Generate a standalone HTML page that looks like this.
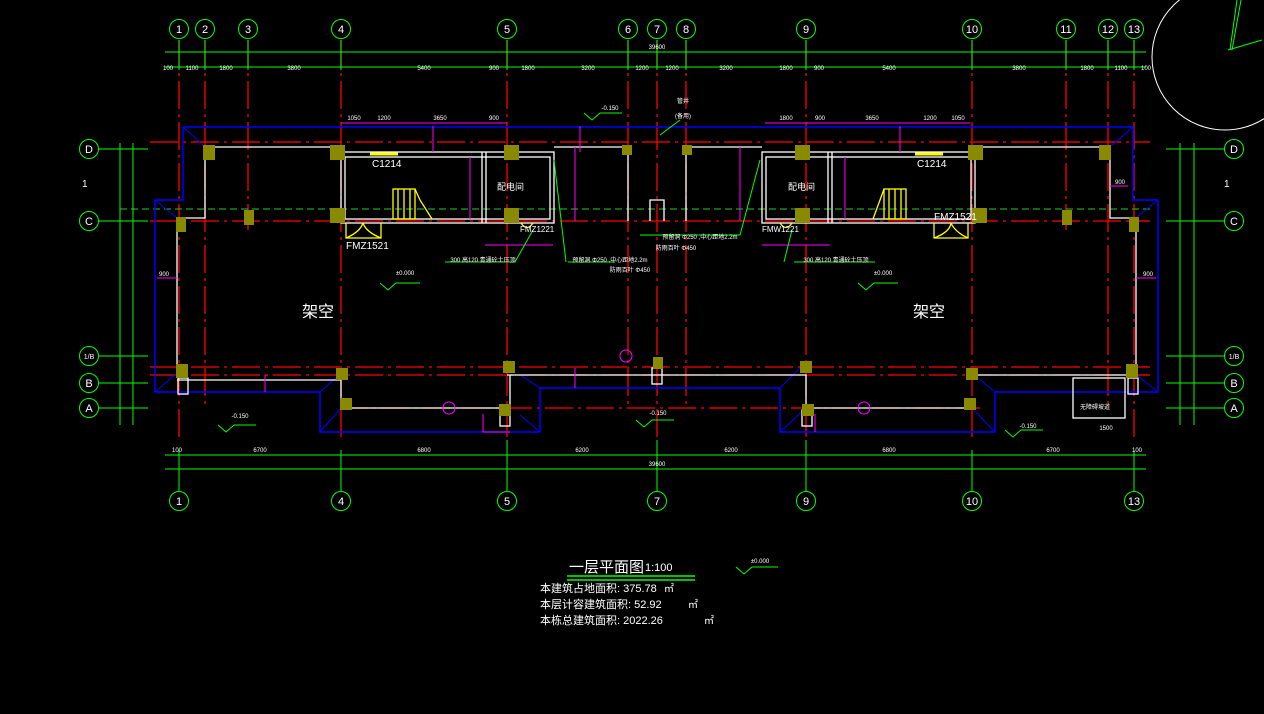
<!DOCTYPE html>
<html><head><meta charset="utf-8"><style>
html,body{margin:0;padding:0;background:#000;}
svg{display:block}
text{font-family:"Liberation Sans","Noto Sans CJK SC",sans-serif;}
</style></head><body>
<svg width="1264" height="714" viewBox="0 0 1264 714" xmlns="http://www.w3.org/2000/svg">
<rect width="1264" height="714" fill="#000"/>
<g stroke="#f00" stroke-width="1.3" stroke-dasharray="28,5,3,5" fill="none">
<line x1="179" y1="40" x2="179" y2="440"/><line x1="205" y1="40" x2="205" y2="405"/>
<line x1="248" y1="40" x2="248" y2="230"/><line x1="341" y1="40" x2="341" y2="440"/>
<line x1="507" y1="40" x2="507" y2="440"/><line x1="628" y1="40" x2="628" y2="405"/>
<line x1="657" y1="40" x2="657" y2="440"/><line x1="686" y1="40" x2="686" y2="405"/>
<line x1="806" y1="40" x2="806" y2="440"/><line x1="972" y1="40" x2="972" y2="440"/>
<line x1="1066" y1="40" x2="1066" y2="230"/><line x1="1108" y1="40" x2="1108" y2="405"/>
<line x1="1134" y1="40" x2="1134" y2="440"/>
<line x1="150" y1="142" x2="1150" y2="142"/><line x1="150" y1="221" x2="1150" y2="221"/>
<line x1="150" y1="367" x2="1150" y2="367"/><line x1="150" y1="375" x2="1150" y2="375"/>
<line x1="340" y1="408" x2="980" y2="408"/>
</g>
<line x1="120" y1="209" x2="1150" y2="209" stroke="#2c2" stroke-dasharray="7,4" stroke-width="1"/>
<polyline fill="none" stroke="#00f" stroke-width="1.5" points="183,127 1133,127 1133,200 1158,200 1158,392 995,392 995,432 780,432 780,388 540,388 540,432 320,432 320,392 155,392 155,200 183,200 183,127"/>
<g stroke="#00f" stroke-width="1"><line x1="183" y1="127" x2="205" y2="147"/><line x1="1133" y1="127" x2="1110" y2="147"/><line x1="155" y1="200" x2="177" y2="218"/><line x1="1158" y1="200" x2="1136" y2="218"/><line x1="155" y1="392" x2="177" y2="373"/><line x1="320" y1="392" x2="341" y2="373"/><line x1="320" y1="432" x2="341" y2="408"/><line x1="540" y1="388" x2="520" y2="375"/><line x1="540" y1="432" x2="520" y2="415"/><line x1="780" y1="388" x2="800" y2="368"/><line x1="780" y1="432" x2="806" y2="408"/><line x1="995" y1="392" x2="972" y2="373"/><line x1="995" y1="432" x2="972" y2="408"/><line x1="1158" y1="392" x2="1134" y2="373"/></g>
<g fill="none" stroke="#fff" stroke-width="1.3">
<polyline points="177,375 177,218 205,218 205,147 341,147"/>
<polyline points="1136,375 1136,218 1110,218 1110,147 975,147"/>
<rect x="341" y="152" width="213" height="71"/><rect x="345" y="157" width="205" height="62"/>
<line x1="482" y1="152" x2="482" y2="223"/><line x1="486" y1="152" x2="486" y2="223"/>
<rect x="762" y="152" width="213" height="71"/><rect x="766" y="157" width="205" height="62"/>
<line x1="828" y1="152" x2="828" y2="223"/><line x1="832" y1="152" x2="832" y2="223"/>
<polyline points="554,147 628,147 628,221"/><polyline points="762,147 686,147 686,221"/>
<polyline points="650,221 650,200 664,200 664,221"/>
<polyline points="177,380 341,380 341,408 507,408"/><polyline points="507,375 806,375 806,408 972,408"/>
<polyline points="972,375 1136,375"/><line x1="510" y1="375" x2="510" y2="408"/>
<rect x="178" y="378" width="10" height="16"/><rect x="500" y="410" width="10" height="16"/><rect x="652" y="368" width="10" height="16"/><rect x="802" y="410" width="10" height="16"/><rect x="1128" y="378" width="10" height="16"/>
<rect x="1073" y="378" width="52" height="40"/>
</g>
<g fill="none" stroke="#ff0" stroke-width="1.3">
<rect x="393" y="189" width="22" height="30"/><line x1="398" y1="189" x2="398" y2="219"/><line x1="404" y1="189" x2="404" y2="219"/><line x1="410" y1="189" x2="410" y2="219"/><polyline points="415,189 420,200 432,219"/>
<rect x="884" y="189" width="22" height="30"/><line x1="889" y1="189" x2="889" y2="219"/><line x1="895" y1="189" x2="895" y2="219"/><line x1="901" y1="189" x2="901" y2="219"/><polyline points="884,189 880,200 873,219"/>
<path d="M346,223 V238 H381 V223 M346,238 Q360,232 363,223 M381,238 Q366,232 363,223"/>
<path d="M934,223 V238 H968 V223 M934,238 Q950,232 951,223 M968,238 Q955,232 951,223"/>
<line x1="370" y1="154" x2="398" y2="154" stroke-width="3"/><line x1="915" y1="154" x2="943" y2="154" stroke-width="3"/>
<path d="M521,223 Q527,232 533,223"/><path d="M780,223 Q786,232 792,223"/>
</g>
<g fill="#8a8a00">
<rect x="203" y="145" width="12" height="15"/><rect x="330" y="145" width="15" height="15"/><rect x="504" y="145" width="15" height="15"/><rect x="622" y="145" width="10" height="10"/><rect x="682" y="145" width="10" height="10"/><rect x="795" y="145" width="15" height="15"/><rect x="968" y="145" width="15" height="15"/><rect x="1099" y="145" width="12" height="15"/>
<rect x="176" y="217" width="10" height="15"/><rect x="244" y="210" width="10" height="15"/><rect x="330" y="208" width="15" height="15"/><rect x="504" y="208" width="15" height="15"/><rect x="795" y="208" width="15" height="15"/><rect x="972" y="208" width="15" height="15"/><rect x="1062" y="210" width="10" height="15"/><rect x="1129" y="217" width="10" height="15"/>
<rect x="176" y="364" width="12" height="14"/><rect x="336" y="368" width="12" height="12"/><rect x="503" y="361" width="12" height="12"/><rect x="653" y="357" width="10" height="12"/><rect x="800" y="361" width="12" height="12"/><rect x="966" y="368" width="12" height="12"/><rect x="1126" y="364" width="12" height="14"/>
<rect x="340" y="398" width="12" height="12"/><rect x="499" y="404" width="12" height="12"/><rect x="802" y="404" width="12" height="12"/><rect x="964" y="398" width="12" height="12"/>
</g>
<g stroke="#f0f" stroke-width="1" fill="none">
<line x1="341" y1="123" x2="507" y2="123"/><line x1="765" y1="123" x2="970" y2="123"/>
<line x1="433" y1="126" x2="433" y2="152"/><line x1="580" y1="126" x2="580" y2="152"/><line x1="900" y1="126" x2="900" y2="152"/>
<line x1="470" y1="157" x2="470" y2="219"/><line x1="575" y1="147" x2="575" y2="221"/><line x1="740" y1="147" x2="740" y2="221"/><line x1="845" y1="157" x2="845" y2="219"/>
<line x1="485" y1="245" x2="553" y2="245"/><line x1="762" y1="245" x2="830" y2="245"/>
<line x1="157" y1="278" x2="177" y2="278"/><line x1="1136" y1="278" x2="1156" y2="278"/>
<line x1="265" y1="375" x2="265" y2="392"/><line x1="575" y1="368" x2="575" y2="388"/><line x1="1110" y1="186" x2="1128" y2="186"/>
<circle cx="449" cy="408" r="6"/><circle cx="864" cy="408" r="6"/><circle cx="626" cy="356" r="6"/>
<line x1="483" y1="414" x2="483" y2="432"/><line x1="483" y1="432" x2="510" y2="432"/><line x1="815" y1="414" x2="815" y2="432"/>
</g>
<g stroke="#0f0" fill="none" stroke-width="1">
<polyline points="445,262 515,262 533,230"/><polyline points="568,262 615,262"/><polyline points="554,160 566,262"/>
<polyline points="640,235 740,235 760,160"/><polyline points="794,262 875,262"/><polyline points="784,262 792,230"/>
<line x1="660" y1="135" x2="680" y2="120"/>
</g>
<g stroke="#0f0" fill="none" stroke-width="1">
<path d="M380,283 L388,290 L396,283 H420"/><path d="M858,283 L866,290 L874,283 H898"/>
<path d="M584,113 L592,120 L600,113 H622"/><path d="M218,425 L226,432 L234,425 H256"/>
<path d="M636,420 L644,427 L652,420 H674"/><path d="M1005,430 L1013,437 L1021,430 H1043"/>
<path d="M736,567 L744,574 L752,567 H778"/>
</g>
<g stroke="#0f0" stroke-width="1">
<line x1="165" y1="52" x2="1146" y2="52"/><line x1="165" y1="67" x2="1146" y2="67"/>
<line x1="165" y1="455" x2="1146" y2="455"/><line x1="165" y1="469" x2="1146" y2="469"/>
<line x1="120" y1="143" x2="120" y2="425"/><line x1="133" y1="143" x2="133" y2="425"/>
<line x1="1180" y1="143" x2="1180" y2="425"/><line x1="1194" y1="143" x2="1194" y2="425"/>
<line x1="179" y1="40" x2="179" y2="70"/><line x1="205" y1="40" x2="205" y2="70"/><line x1="248" y1="40" x2="248" y2="70"/><line x1="341" y1="40" x2="341" y2="70"/><line x1="507" y1="40" x2="507" y2="70"/><line x1="628" y1="40" x2="628" y2="70"/><line x1="657" y1="40" x2="657" y2="70"/><line x1="686" y1="40" x2="686" y2="70"/><line x1="806" y1="40" x2="806" y2="70"/><line x1="972" y1="40" x2="972" y2="70"/><line x1="1066" y1="40" x2="1066" y2="70"/><line x1="1108" y1="40" x2="1108" y2="70"/><line x1="1134" y1="40" x2="1134" y2="70"/>
<line x1="179" y1="450" x2="179" y2="491"/><line x1="341" y1="450" x2="341" y2="491"/><line x1="507" y1="440" x2="507" y2="491"/><line x1="657" y1="440" x2="657" y2="491"/><line x1="806" y1="440" x2="806" y2="491"/><line x1="972" y1="450" x2="972" y2="491"/><line x1="1134" y1="450" x2="1134" y2="491"/>
<line x1="99" y1="149" x2="148" y2="149"/><line x1="99" y1="221" x2="148" y2="221"/><line x1="99" y1="356" x2="148" y2="356"/><line x1="99" y1="383" x2="148" y2="383"/><line x1="99" y1="408" x2="148" y2="408"/>
<line x1="1166" y1="149" x2="1224" y2="149"/><line x1="1166" y1="221" x2="1224" y2="221"/><line x1="1166" y1="356" x2="1224" y2="356"/><line x1="1166" y1="383" x2="1224" y2="383"/><line x1="1166" y1="408" x2="1224" y2="408"/>
<line x1="567" y1="576" x2="695" y2="576" stroke-width="1.5"/><line x1="567" y1="580" x2="695" y2="580" stroke-width="1.5"/>
</g>
<g stroke="#0f0" fill="none" stroke-width="1">
<circle cx="179" cy="29" r="9.5"/><circle cx="205" cy="29" r="9.5"/><circle cx="248" cy="29" r="9.5"/><circle cx="341" cy="29" r="9.5"/><circle cx="507" cy="29" r="9.5"/><circle cx="628" cy="29" r="9.5"/><circle cx="657" cy="29" r="9.5"/><circle cx="686" cy="29" r="9.5"/><circle cx="806" cy="29" r="9.5"/><circle cx="972" cy="29" r="9.5"/><circle cx="1066" cy="29" r="9.5"/><circle cx="1108" cy="29" r="9.5"/><circle cx="1134" cy="29" r="9.5"/>
<circle cx="179" cy="501" r="9.5"/><circle cx="341" cy="501" r="9.5"/><circle cx="507" cy="501" r="9.5"/><circle cx="657" cy="501" r="9.5"/><circle cx="806" cy="501" r="9.5"/><circle cx="972" cy="501" r="9.5"/><circle cx="1134" cy="501" r="9.5"/>
<circle cx="89" cy="149" r="9.5"/><circle cx="89" cy="221" r="9.5"/><circle cx="89" cy="356" r="9.5"/><circle cx="89" cy="383" r="9.5"/><circle cx="89" cy="408" r="9.5"/>
<circle cx="1234" cy="149" r="9.5"/><circle cx="1234" cy="221" r="9.5"/><circle cx="1234" cy="356" r="9.5"/><circle cx="1234" cy="383" r="9.5"/><circle cx="1234" cy="408" r="9.5"/>
</g>
<g fill="#fff" font-size="11" text-anchor="middle">
<text x="179" y="33">1</text><text x="205" y="33">2</text><text x="248" y="33">3</text><text x="341" y="33">4</text><text x="507" y="33">5</text><text x="628" y="33">6</text><text x="657" y="33">7</text><text x="686" y="33">8</text><text x="806" y="33">9</text><text x="972" y="33">10</text><text x="1066" y="33">11</text><text x="1108" y="33">12</text><text x="1134" y="33">13</text>
<text x="179" y="505">1</text><text x="341" y="505">4</text><text x="507" y="505">5</text><text x="657" y="505">7</text><text x="806" y="505">9</text><text x="972" y="505">10</text><text x="1134" y="505">13</text>
<text x="89" y="153">D</text><text x="89" y="225">C</text><text x="89" y="359" font-size="7">1/B</text><text x="89" y="387">B</text><text x="89" y="412">A</text>
<text x="1234" y="153">D</text><text x="1234" y="225">C</text><text x="1234" y="359" font-size="7">1/B</text><text x="1234" y="387">B</text><text x="1234" y="412">A</text>
</g>
<g fill="#fff" font-size="6" text-anchor="middle">
<text x="657" y="49">39600</text>
<text x="168" y="70">100</text><text x="192" y="70">1100</text><text x="226" y="70">1800</text><text x="294" y="70">3800</text><text x="424" y="70">5400</text><text x="494" y="70">900</text><text x="528" y="70">1800</text><text x="588" y="70">3200</text><text x="642" y="70">1200</text><text x="672" y="70">1200</text><text x="726" y="70">3200</text><text x="786" y="70">1800</text><text x="819" y="70">900</text><text x="889" y="70">5400</text><text x="1019" y="70">3800</text><text x="1087" y="70">1800</text><text x="1121" y="70">1100</text><text x="1146" y="70">100</text>
<text x="177" y="452">100</text><text x="260" y="452">6700</text><text x="424" y="452">6800</text><text x="582" y="452">6200</text><text x="731" y="452">6200</text><text x="889" y="452">6800</text><text x="1053" y="452">6700</text><text x="1137" y="452">100</text>
<text x="657" y="466">39600</text>
<text x="354" y="120">1050</text><text x="384" y="120">1200</text><text x="440" y="120">3650</text><text x="494" y="120">900</text><text x="786" y="120">1800</text><text x="820" y="120">900</text><text x="872" y="120">3650</text><text x="930" y="120">1200</text><text x="958" y="120">1050</text>
<text x="164" y="276">900</text><text x="1148" y="276">900</text><text x="1120" y="184">900</text><text x="1106" y="430">1500</text>
<text x="483" y="262">300 高120 青通砼土压顶</text>
<text x="836" y="262">300 高120 青通砼土压顶</text>
<text x="610" y="262">预留洞 Φ250 ,中心距地2.2m</text>
<text x="630" y="272">防雨百叶 Φ450</text>
<text x="700" y="239">预留洞 Φ250 ,中心距地2.2m</text>
<text x="676" y="250">防雨百叶 Φ450</text>
<text x="405" y="275">±0.000</text><text x="883" y="275">±0.000</text>
<text x="610" y="110">-0.150</text><text x="240" y="418">-0.150</text><text x="658" y="415">-0.150</text><text x="1028" y="428">-0.150</text>
<text x="760" y="563">±0.000</text>
<text x="683" y="103">管井</text><text x="683" y="118">(备用)</text>
<text x="1095" y="409">无障碍坡道</text>
</g>
<g fill="#fff" font-size="10">
<text x="372" y="167">C1214</text><text x="917" y="167">C1214</text>
<text x="346" y="249">FMZ1521</text><text x="934" y="220">FMZ1521</text>
<text x="520" y="232" font-size="8">FMZ1221</text><text x="762" y="232" font-size="8">FMW1221</text>
<text x="497" y="190" font-size="9">配电间</text><text x="788" y="190" font-size="9">配电间</text>
<text x="302" y="317" font-size="16">架空</text><text x="913" y="317" font-size="16">架空</text>
<text x="569" y="572" font-size="15">一层平面图</text><text x="645" y="571" font-size="11">1:100</text>
<text x="540" y="592" font-size="11">本建筑占地面积:  375.78</text><text x="664" y="592" font-size="10">㎡</text>
<text x="540" y="608" font-size="11">本层计容建筑面积:   52.92</text><text x="688" y="608" font-size="10">㎡</text>
<text x="540" y="624" font-size="11">本栋总建筑面积:  2022.26</text><text x="704" y="624" font-size="10">㎡</text>
<text x="82" y="187">1</text><text x="1224" y="187">1</text>
</g>
<circle cx="1225" cy="57" r="73" fill="none" stroke="#fff" stroke-width="1"/>
<g stroke="#0f0" stroke-width="1"><line x1="1237" y1="0" x2="1230" y2="50"/><line x1="1241" y1="0" x2="1232" y2="50"/><line x1="1228" y1="50" x2="1262" y2="40"/></g>
</svg>
</body></html>
